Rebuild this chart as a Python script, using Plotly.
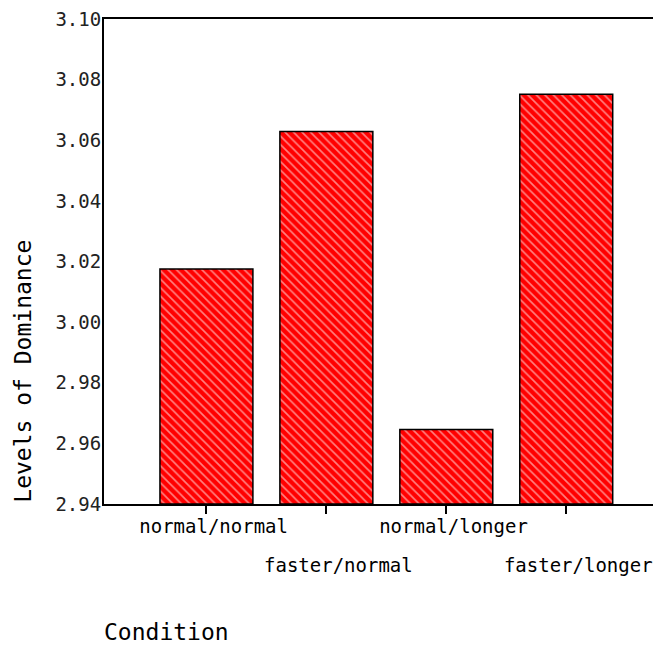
import plotly.graph_objects as go

categories = ["normal/normal", "faster/normal", "normal/longer", "faster/longer"]
values = [3.0175, 3.0629, 2.9646, 3.0752]
y_ticks = [2.94, 2.96, 2.98, 3.00, 3.02, 3.04, 3.06, 3.08, 3.10]

FONT = "DejaVu Sans Mono"
idx = list(range(len(categories)))
XR = [-0.854, 3.79]

fig = go.Figure()
fig.add_trace(go.Bar(
    x=idx, y=[v - 2.94 for v in values], base=2.94,
    width=0.775,
    marker=dict(color="#ff0000",
                line=dict(color="#000000", width=1.5),
                pattern=dict(shape="\\", fgcolor="#ffffff", bgcolor="#ff0000",
                             size=6, solidity=0.28)),
    hoverinfo="skip",
))
# invisible traces on extra x axes for staggered labels
fig.add_trace(go.Scatter(x=idx, y=[None]*len(idx), xaxis="x2", showlegend=False))
fig.add_trace(go.Scatter(x=idx, y=[None]*len(idx), xaxis="x3", showlegend=False))

row1 = [c if i % 2 == 0 else "" for i, c in enumerate(categories)]
row2 = [c if i % 2 == 1 else "" for i, c in enumerate(categories)]

fig.update_layout(
    width=653, height=637,
    margin=dict(l=96, r=0, t=9, b=141),
    plot_bgcolor="white", paper_bgcolor="white",
    showlegend=False,
    font=dict(family=FONT, color="#000000"),
    xaxis=dict(range=XR, tickvals=idx, showticklabels=False,
               ticks="outside", ticklen=8, tickwidth=1.5, tickcolor="#000000",
               showline=True, linecolor="#000000", linewidth=2, mirror=True,
               showgrid=False, zeroline=False),
    xaxis2=dict(range=[XR[0] - 0.06, XR[1] - 0.06], overlaying="x", side="bottom", anchor="y",
                tickvals=idx, ticktext=row1, ticks="", showline=False,
                showgrid=False, zeroline=False, ticklabelstandoff=9,
                tickfont=dict(family=FONT, size=19, color="#000000")),
    xaxis3=dict(range=[XR[0] - 0.1, XR[1] - 0.1], overlaying="x", side="bottom", anchor="y",
                tickvals=idx, ticktext=row2, ticks="", showline=False,
                showgrid=False, zeroline=False, ticklabelstandoff=48,
                tickfont=dict(family=FONT, size=19, color="#000000")),
    yaxis=dict(range=[2.94, 3.10], tickvals=y_ticks,
               ticktext=[f"{v:.2f}" for v in y_ticks],
               ticks="", showline=True, linecolor="#000000", linewidth=2,
               showgrid=False, zeroline=False, ticklabelstandoff=-3,
               ticklabeloverflow="allow",
               tickfont=dict(family=FONT, size=19, color="#222222")),
    annotations=[
        dict(text="Levels of Dominance", xref="paper", yref="paper",
             x=-0.147, y=0.273, xanchor="center", yanchor="middle",
             textangle=-90, showarrow=False,
             font=dict(family=FONT, size=23, color="#000000")),
        dict(text="Condition", xref="paper", yref="paper",
             x=0.113, y=-0.263, xanchor="center", yanchor="middle",
             showarrow=False, font=dict(family=FONT, size=23, color="#000000")),
    ],
)

fig.write_html("out.html")
